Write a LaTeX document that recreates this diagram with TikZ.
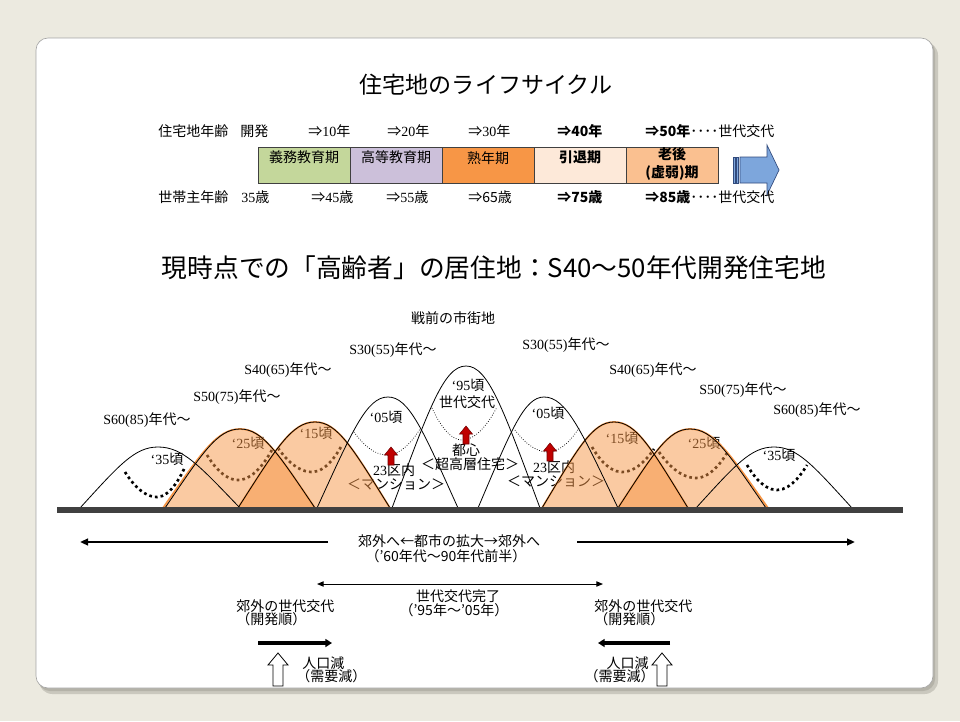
\documentclass[tikz,border=0pt]{standalone}
\usepackage{fontspec}
\setmainfont{Noto Sans CJK JP}
\newfontfamily\mc{Liberation Serif}
\usetikzlibrary{arrows.meta}
\definecolor{bgc}{RGB}{236,234,224}
\definecolor{shadowc}{RGB}{180,178,168}
\definecolor{cardline}{RGB}{165,165,165}
\definecolor{boxA}{RGB}{196,215,155}
\definecolor{boxB}{RGB}{204,192,218}
\definecolor{boxC}{RGB}{247,150,70}
\definecolor{boxD}{RGB}{253,233,217}
\definecolor{boxE}{RGB}{250,192,144}
\definecolor{hillor}{RGB}{247,150,70}
\definecolor{bluearr}{RGB}{125,166,220}
\definecolor{bluedark}{RGB}{50,75,125}
\definecolor{redarr}{RGB}{192,0,0}
\definecolor{groundc}{RGB}{64,64,64}
\tikzset{
  txt/.style={inner sep=0pt, font=\fontsize{10.5pt}{12pt}\selectfont},
  rowtxt/.style={inner sep=0pt, anchor=west, font=\fontsize{10.5pt}{12pt}\selectfont},
  stagebox/.style={draw=black!75, line width=0.6pt, minimum width=69pt, minimum height=27pt, inner sep=0pt},
  hill/.style={draw=black, line width=0.6pt},
  orfill/.style={fill=hillor, fill opacity=0.5},
  orline/.style={draw=hillor, line width=1.3pt},
  bigdots/.style={line width=2pt, dash pattern=on 2pt off 2.3pt},
  finedots/.style={line width=0.55pt, dash pattern=on 0.55pt off 1.3pt},
  bigarrow/.style={line width=1.5pt, -{Triangle[length=6pt,width=5pt]}},
  thickarrow/.style={line width=2.3pt, -{Triangle[length=5pt,width=6pt]}},
  thinarrow/.style={line width=0.7pt, {Triangle[length=5pt,width=4pt]}-{Triangle[length=5pt,width=4pt]}},
  hillp/.style n args={4}{insert path={(#1,508) .. controls ({#1+0.5*(#2-#1)},{508-0.7*(508-#3)}) and ({#1+0.7*(#2-#1)},#3) .. (#2,#3) .. controls ({#2+0.3*(#4-#2)},#3) and ({#2+0.5*(#4-#2)},{508-0.7*(508-#3)}) .. (#4,508)}},
  redup/.pic={\draw[fill=redarr, draw=black!55!red, line width=0.4pt] (-3,0) -- (-3,-10) -- (-6.5,-10) -- (0,-18) -- (6.5,-10) -- (3,-10) -- (3,0) -- cycle;},
  hollowup/.pic={\draw[fill=white, draw=black, line width=0.6pt] (-5,0) -- (-5,-21) -- (-10,-21) -- (0,-33) -- (10,-21) -- (5,-21) -- (5,0) -- cycle;},
}
\begin{document}
\begin{tikzpicture}[x=0.75pt,y=-0.75pt]
\useasboundingbox (0,0) rectangle (960,721);
% background and card
\fill[bgc] (0,0) rectangle (960,721);
\fill[shadowc!60!bgc, rounded corners=10pt] (39,42) rectangle (938,694);
\fill[shadowc, rounded corners=9pt] (38,40) rectangle (935,691);
\draw[cardline, line width=0.5pt, fill=white, rounded corners=9pt] (36,38) rectangle (933,688);

% title
\node[inner sep=0pt, font=\fontsize{17.3pt}{20pt}\selectfont] (title) at (486,85) {住宅地のライフサイクル};

% row 1
\node[rowtxt] (ra0) at (158,131) {住宅地年齢};
\node[rowtxt] (ra1) at (240,131) {開発};
\node[rowtxt] (ra2) at (308,131) {⇒{\mc 10}年};
\node[rowtxt] (ra3) at (387,131) {⇒{\mc 20}年};
\node[rowtxt] (ra4) at (468,131) {⇒{\mc 30}年};
\node[rowtxt] (ra5) at (557,131) {\bfseries ⇒40年};
\node[rowtxt] (ra6) at (645,131) {{\bfseries ⇒50年}････世代交代};

% stage boxes
\node[stagebox, fill=boxA] (b1) at (304,165) {};
\node[stagebox, fill=boxB] (b2) at (396,165) {};
\node[stagebox, fill=boxC] (b3) at (488,165) {};
\node[stagebox, fill=boxD] (b4) at (580,165) {};
\node[stagebox, fill=boxE] (b5) at (672,165) {};
\node[txt] (b1t) at (304,157) {義務教育期};
\node[txt] (b2t) at (396,157) {高等教育期};
\node[txt] (b3t) at (488,158) {熟年期};
\node[txt] (b4t) at (580,157) {\bfseries 引退期};
\node[txt, align=center, font=\fontsize{10.5pt}{14pt}\selectfont\bfseries] (b5t) at (672,164) {老後\\(虚弱)期};

% blue arrow
\draw[fill=bluearr, draw=bluedark, line width=0.4pt] (733,157) rectangle (735,183);
\draw[fill=bluearr, draw=bluedark, line width=0.4pt] (736.5,157) rectangle (738.5,183);
\draw[fill=bluearr, draw=bluedark, line width=0.5pt] (740,157) -- (767,157) -- (767,145) -- (779,170) -- (767,195) -- (767,183) -- (740,183) -- cycle;

% row 3
\node[rowtxt] (rb0) at (158,197) {世帯主年齢};
\node[rowtxt] (rb1) at (241,197) {{\mc 35}歳};
\node[rowtxt] (rb2) at (311,197) {⇒{\mc 45}歳};
\node[rowtxt] (rb3) at (386,197) {⇒{\mc 55}歳};
\node[rowtxt] (rb4) at (468,197) {⇒65歳};
\node[rowtxt] (rb5) at (557,197) {\bfseries ⇒75歳};
\node[rowtxt] (rb6) at (645,197) {{\bfseries ⇒85歳}････世代交代};

% subtitle
\node[inner sep=0pt, font=\fontsize{19.3pt}{22pt}\selectfont] (subtitle) at (494,268) {現時点での「高齢者」の居住地：S40～50年代開発住宅地};

% hill labels
\node[txt] (pre) at (453,318) {戦前の市街地};
\node[txt] (l30) at (393,350) {{\mc S30(55)}年代～};
\node[txt] (l40) at (288,370) {{\mc S40(65)}年代～};
\node[txt] (l50) at (237,397) {{\mc S50(75)}年代～};
\node[txt] (l60) at (147,420) {{\mc S60(85)}年代～};
\node[txt] (r30) at (566,345) {{\mc S30(55)}年代～};
\node[txt] (r40) at (653,370) {{\mc S40(65)}年代～};
\node[txt] (r50) at (743,390) {{\mc S50(75)}年代～};
\node[txt] (r60) at (817,410) {{\mc S60(85)}年代～};

% texts inside hills
\node[txt] (y35l) at (167,459) {{\mc ‘35}頃};
\node[txt] (y25l) at (248,443) {{\mc ‘25}頃};
\node[txt] (y15l) at (316,433) {{\mc ‘15}頃};
\node[txt] (y05l) at (386,417) {{\mc ‘05}頃};
\node[txt] (y95) at (468,385) {{\mc ‘95}頃};
\node[txt] (gen) at (467,402) {世代交代};
\node[txt] (tos) at (466,450) {都心};
\node[txt] (sky) at (470,464) {＜超高層住宅＞};
\node[txt] (k23l) at (394,470) {{\mc 23}区内};
\node[txt] (manl) at (396,485) {＜マンション＞};
\node[txt] (y05r) at (548,413) {{\mc ‘05}頃};
\node[txt] (k23r) at (554,467) {{\mc 23}区内};
\node[txt] (manr) at (556,482) {＜マンション＞};
\node[txt] (y15r) at (622,438) {{\mc ‘15}頃};
\node[txt] (y25r) at (704,443) {{\mc ‘25}頃};
\node[txt] (y35r) at (779,455) {{\mc ‘35}頃};

% dotted curves
\draw[bigdots] (125,472) parabola bend (157,497) (185,467);
\draw[bigdots] (207,455) parabola bend (238,480) (273,448);
\draw[bigdots] (278,448) parabola bend (312,472) (342,445);
\draw[finedots] (354,432) parabola bend (387,455) (420,429);
\draw[finedots] (432,408) parabola bend (462,440) (497,407);
\draw[finedots] (515,430) parabola bend (548,452) (579,428);
\draw[bigdots] (592,447) parabola bend (622,472) (654,449);
\draw[bigdots] (659,452) parabola bend (696,478) (727,453);
\draw[bigdots] (747,465) parabola bend (777,490) (807,465);

% orange fills
\fill[orfill, hillp={163}{240}{429}{315}] -- cycle;
\fill[orfill, hillp={238}{315}{422}{390}] -- cycle;
\fill[orfill, hillp={542}{614}{422}{688}] -- cycle;
\fill[orfill, hillp={618}{690}{429}{768}] -- cycle;
\draw[orline, hillp={163}{240}{429}{315}];
\draw[orline, hillp={238}{315}{422}{390}];
\draw[orline, hillp={542}{614}{422}{688}];
\draw[orline, hillp={618}{690}{429}{768}];

% hill outlines
\draw[hill, hillp={80}{158}{447}{240}];
\draw[hill, hillp={165}{240}{429}{315}];
\draw[hill, hillp={238}{315}{422}{390}];
\draw[hill, hillp={317}{388}{397}{458}];
\draw[hill, hillp={392}{466}{366}{540}];
\draw[hill, hillp={478}{544}{397}{618}];
\draw[hill, hillp={542}{614}{422}{688}];
\draw[hill, hillp={618}{690}{429}{766}];
\draw[hill, hillp={696}{774}{447}{852}];

% red arrows
\pic (ral) at (391,465) {redup};
\pic (rac) at (466,444) {redup};
\pic (rar) at (550,461) {redup};

% ground
\coordinate (g1) at (57,510);
\coordinate (g2) at (903,510);
\draw[groundc, line width=4.6pt] (g1) -- (g2);

% lower section
\coordinate (la1) at (328,542); \coordinate (la2) at (80,542);
\coordinate (lb1) at (577,542); \coordinate (lb2) at (855,542);
\draw[bigarrow] (la1) -- (la2);
\draw[bigarrow] (lb1) -- (lb2);
\node[txt] (exp1) at (449,541) {郊外へ←都市の拡大→郊外へ};
\node[txt] (exp2) at (446,556) {（’60年代～90年代前半）};

\coordinate (ta1) at (317,584); \coordinate (ta2) at (603,584);
\draw[thinarrow] (ta1) -- (ta2);
\node[txt] (done1) at (458,596) {世代交代完了};
\node[txt] (done2) at (454,610) {（’95年～’05年）};

\node[txt, anchor=west] (sl1) at (236,606) {郊外の世代交代};
\node[txt, anchor=west] (sl2) at (236,619) {（開発順）};
\node[txt, anchor=west] (sr1) at (594,606) {郊外の世代交代};
\node[txt, anchor=west] (sr2) at (594,619) {（開発順）};

\coordinate (ka1) at (258,643); \coordinate (ka2) at (332,643);
\coordinate (kb1) at (670,643); \coordinate (kb2) at (598,643);
\draw[thickarrow] (ka1) -- (ka2);
\draw[thickarrow] (kb1) -- (kb2);

\pic (hul) at (278,686) {hollowup};
\pic (hur) at (662,686) {hollowup};
\node[txt, anchor=west] (pl1) at (302,663) {人口減};
\node[txt, anchor=west] (pl2) at (296,676) {（需要減）};
\node[txt, anchor=east] (pr1) at (649,663) {人口減};
\node[txt, anchor=east] (pr2) at (655,676) {（需要減）};
\end{tikzpicture}
\end{document}
